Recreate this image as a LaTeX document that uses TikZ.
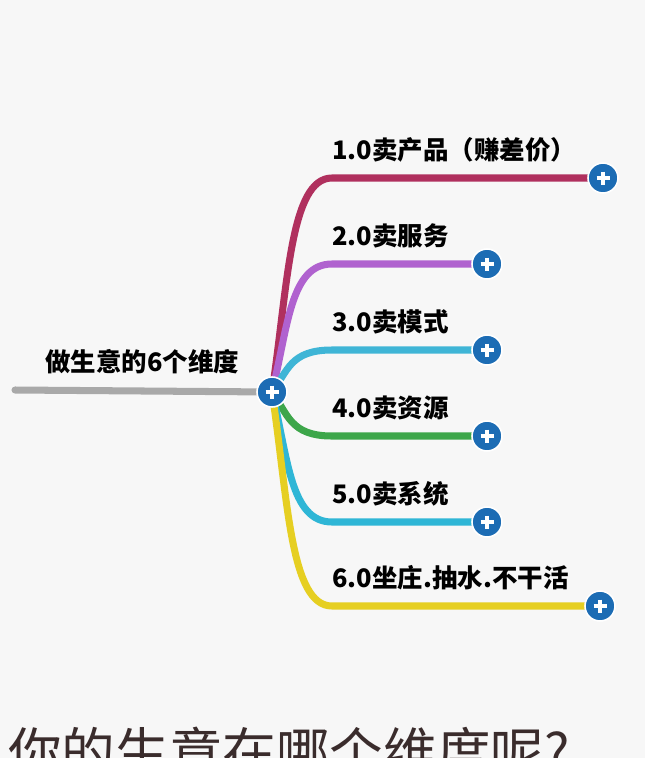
\documentclass[tikz,border=0pt]{standalone}
\usepackage{fontspec}
\setmainfont{Noto Sans CJK SC}
\usepackage{xcolor}
\usetikzlibrary{backgrounds}

\definecolor{bgpaper}{HTML}{F7F7F7}
\definecolor{dotblue}{HTML}{1C6CB4}
\definecolor{rootgray}{HTML}{A9A9A9}
\definecolor{brone}{HTML}{B0305E}
\definecolor{brtwo}{HTML}{B062CF}
\definecolor{brthree}{HTML}{3FB5D6}
\definecolor{brfour}{HTML}{3DA64A}
\definecolor{brfive}{HTML}{2FB6D6}
\definecolor{brsix}{HTML}{E6CF22}
\definecolor{asktext}{HTML}{3A2C2C}

\begin{document}
\begin{tikzpicture}[
  x=0.02cm, y=-0.02cm,
  dot/.style = {circle, fill=dotblue, draw=white, line width=0.9pt, minimum size=0.6cm, inner sep=0pt,
    path picture={\draw[white, line width=1.9pt] (path picture bounding box.center) ++(-6.5,0) -- ++(13,0)
      (path picture bounding box.center) ++(0,-6.5) -- ++(0,13);}},
  branch/.style = {line width=4pt, line cap=round},
  lbl/.style = {font=\bfseries\fontsize{14.5}{16}\selectfont, anchor=base west, inner sep=0pt},
  ask/.style = {font=\fontsize{30.5}{33}\selectfont, text=asktext, anchor=base west, inner sep=0pt}
]
  \useasboundingbox (0,0) rectangle (645,758);
  \begin{scope}[on background layer]
    \fill[bgpaper] (0,0) rectangle (645,758);
  \end{scope}

  % root
  \node[dot] (hub) at (272,392) {};
  \coordinate (root) at (15,390);
  \node[lbl] (title) at (45,371) {做生意的6个维度};
  \begin{scope}[on background layer]
    \draw[branch, rootgray] (root) -- (hub.center);
  \end{scope}

  % six branches
  \foreach \i/\y/\xe/\col/\txt in {
    1/178/603/brone/{1.0卖产品（赚差价）},
    2/264/487/brtwo/{2.0卖服务},
    3/350/487/brthree/{3.0卖模式},
    4/436/487/brfour/{4.0卖资源},
    5/522/487/brfive/{5.0卖系统},
    6/606/600/brsix/{6.0坐庄.抽水.不干活}
  }{
    \node[dot] (e\i) at (\xe,\y) {};
    \node[lbl] (l\i) at (332,\y-19) {\txt};
    \begin{scope}[on background layer]
      \draw[branch, \col] (hub.center) .. controls (288,{(\y+392)/2}) and (290,\y) .. (332,\y) -- (e\i.center);
    \end{scope}
  }

  % question, cut by the lower edge as in the source
  \begin{scope}
    \clip (0,0) rectangle (645,758);
    \node[ask] (question) at (8,772) {你的生意在哪个维度呢?};
  \end{scope}
\end{tikzpicture}
\end{document}
